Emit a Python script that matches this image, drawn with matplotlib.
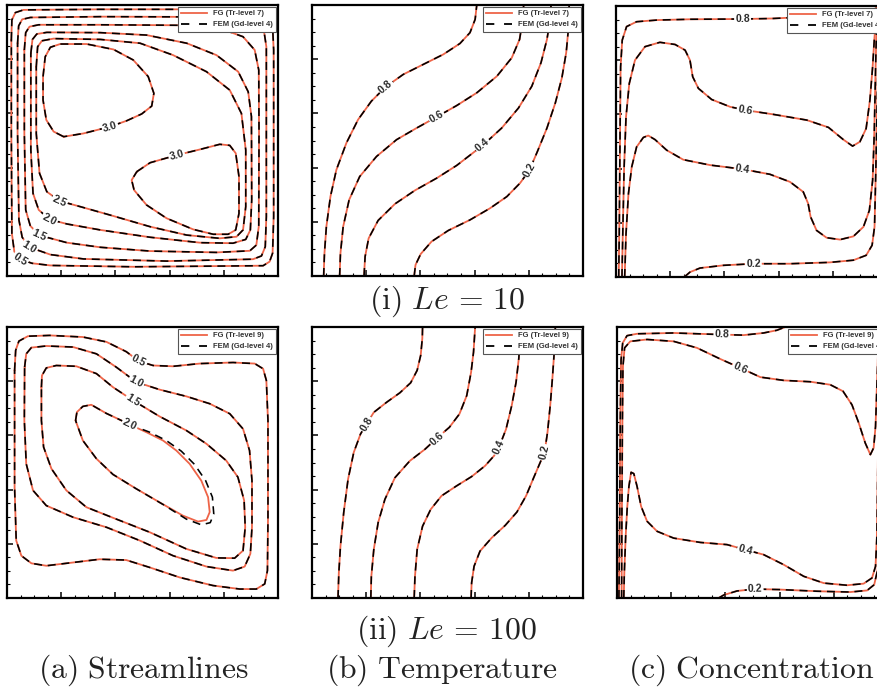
import math
import matplotlib
matplotlib.use("Agg")
import matplotlib.pyplot as plt
from matplotlib.lines import Line2D

plt.rcParams['mathtext.fontset'] = 'cm'

RED = '#ee6448'
LBL_FONT = 'Liberation Sans'

# ---------------- data (percent of cavity width / height) ----------------
# (i) Le = 10, streamlines: closed rings
a1_psi05 = [(1.6, 87.1), (1.8, 94.5), (3.1, 97.2), (6.1, 98.2), (34.4, 98.4), (65.0, 98.4), (89.6, 98.2),
            (95.7, 97.2), (97.9, 94.5), (98.4, 83.4), (98.4, 21.9), (98.0, 8.4), (96.9, 5.3), (94.5, 3.8),
            (46.6, 3.4), (16.0, 3.9), (9.2, 4.7), (4.9, 6.2), (2.7, 9.0), (1.8, 15.7), (1.6, 52.6)]
a1_psi10 = [(3.9, 85.9), (4.3, 92.3), (5.6, 94.7), (8.6, 95.4), (34.4, 95.7), (71.2, 95.6), (85.9, 95.0),
            (92.0, 93.5), (94.8, 90.5), (95.7, 84.6), (95.7, 21.9), (95.3, 10.8), (93.9, 7.4), (90.8, 6.2),
            (58.9, 5.5), (28.2, 6.3), (16.0, 7.9), (8.3, 10.6), (5.6, 14.3), (4.4, 20.7), (3.9, 52.6)]
a1_psi15 = [(6.4, 83.4), (6.9, 89.8), (8.3, 92.0), (11.7, 92.7), (34.4, 92.7), (66.3, 92.5), (78.5, 91.4),
            (87.1, 88.3), (91.4, 83.4), (92.9, 76.0), (93.0, 52.6), (92.9, 18.2), (92.0, 11.4), (89.6, 9.3),
            (77.3, 8.7), (52.8, 9.2), (34.4, 10.6), (22.1, 12.3), (12.0, 15.0), (8.6, 18.5), (6.9, 24.4),
            (6.4, 52.6)]
a1_psi20 = [(8.8, 82.2), (9.4, 87.3), (11.0, 89.3), (14.7, 89.9), (34.4, 89.8), (51.5, 88.9), (66.3, 85.9),
            (77.3, 81.5), (85.3, 75.4), (89.0, 68.0), (90.2, 58.8), (90.3, 28.0), (89.8, 17.0), (88.1, 13.5),
            (83.4, 12.1), (71.2, 12.3), (52.8, 14.3), (34.4, 17.0), (22.1, 19.2), (15.7, 20.9), (11.7, 24.4),
            (9.6, 30.5), (8.8, 46.5)]
a1_psi25 = [(10.8, 77.2), (11.3, 84.6), (12.9, 86.8), (17.2, 87.6), (34.4, 87.3), (49.1, 85.9), (61.3, 81.5),
            (73.6, 75.4), (82.2, 68.6), (86.5, 60.0), (88.1, 46.5), (88.1, 25.6), (87.1, 17.0), (84.7, 14.5),
            (78.5, 13.9), (66.3, 15.1), (52.8, 18.2), (38.0, 22.5), (27.0, 25.6), (19.4, 27.7), (14.7, 31.1),
            (12.0, 37.9), (10.8, 52.6)]
a1_psi30_tl = [(20.9, 51.4), (17.2, 53.3), (14.5, 57.6), (13.3, 64.9), (13.3, 73.6), (14.1, 80.9), (16.0, 84.4),
               (19.6, 85.6), (29.4, 85.6), (39.3, 83.6), (46.6, 79.7), (52.1, 73.6), (54.2, 67.4), (53.4, 62.7),
               (49.7, 59.8), (44.2, 57.3), (38.0, 55.1), (28.2, 52.6)]
a1_psi30_br = [(47.9, 38.5), (52.8, 41.8), (62.6, 44.6), (71.2, 46.7), (78.5, 48.6), (82.2, 48.2), (84.4, 45.3),
               (85.6, 36.7), (85.6, 23.1), (84.4, 17.0), (81.6, 15.4), (76.1, 15.4), (68.7, 17.2), (58.9, 21.3),
               (51.5, 26.2), (46.9, 31.7), (46.0, 35.4)]

# (i) Le = 10, temperature
b1_t08 = [(4.3, 0), (4.6, 8.4), (5.3, 18.2), (6.8, 29.3), (9.0, 39.2), (12.7, 49.1), (17.0, 57.7), (21.9, 64.5),
          (27.2, 69.8), (33.7, 74.4), (41.1, 78.1), (48.5, 81.8), (54.6, 85.8), (58.3, 89.8), (60.2, 94.7),
          (60.8, 100)]
b1_t06 = [(10.2, 0), (10.5, 8.4), (11.5, 18.2), (13.7, 28.1), (17.6, 36.7), (23.8, 44.1), (31.2, 50.3),
          (38.6, 54.6), (46.0, 58.7), (53.4, 62.9), (60.8, 67.6), (68.2, 73.7), (73.7, 80.5), (76.6, 87.3),
          (77.8, 94.7), (78.1, 100)]
b1_t04 = [(19.2, 0), (19.6, 7.2), (20.9, 13.9), (24.4, 20.5), (30.6, 26.6), (38.0, 31.6), (46.0, 36.1),
          (53.4, 40.8), (63.0, 48.2), (70.0, 54.6), (76.2, 62.0), (81.1, 70.0), (84.5, 78.7), (86.7, 87.3),
          (87.9, 94.7), (88.2, 100)]
b1_t02 = [(37.7, 0), (38.2, 4.1), (40.1, 8.1), (44.1, 12.7), (50.3, 16.8), (58.3, 20.7), (65.7, 25.0),
          (71.9, 29.3), (76.8, 34.3), (80.3, 39.2), (83.2, 46.0), (86.7, 54.6), (89.8, 63.9), (92.2, 73.1),
          (93.8, 82.4), (94.6, 91.0), (94.9, 100)]

# (i) Le = 10, concentration
c1_c08 = [(1.0, 0), (1.2, 16.0), (1.5, 53.0), (1.7, 77.6), (2.3, 87.4), (3.9, 92.4), (7.6, 94.2), (15.0, 94.8),
          (27.3, 95.1), (46.7, 95.2), (58.1, 95.4), (66.7, 95.8), (76.5, 96.7), (86.3, 97.5), (93.7, 98.5),
          (99.3, 100)]
c1_c06 = [(2.2, 0), (2.5, 16.0), (3.0, 40.6), (3.7, 59.1), (4.9, 71.4), (7.0, 80.0), (10.7, 85.0), (16.2, 86.6),
          (21.8, 85.8), (25.5, 83.7), (27.3, 80.0), (28.3, 73.9), (30.4, 69.6), (35.3, 65.5), (42.1, 62.8),
          (47.6, 61.6), (58.1, 60.0), (70.4, 57.9), (78.4, 55.2), (83.9, 50.7), (87.3, 48.3), (90.0, 49.9),
          (92.3, 54.8), (93.7, 65.3), (94.7, 77.6), (95.3, 87.4), (95.9, 94.8), (96.2, 100)]
c1_c04 = [(3.2, 0), (3.7, 16.0), (4.6, 30.8), (5.8, 40.6), (7.6, 48.0), (10.1, 51.5), (11.9, 52.2), (14.4, 50.7),
          (18.7, 46.8), (24.8, 43.3), (34.7, 41.3), (46.7, 39.8), (56.8, 37.9), (64.2, 35.1), (69.1, 31.4),
          (70.9, 27.1), (71.8, 22.2), (74.0, 17.2), (77.7, 14.5), (82.7, 13.8), (87.6, 15.0), (91.3, 18.5),
          (93.5, 24.6), (94.7, 35.7), (95.3, 53.0), (95.8, 77.6), (96.2, 94.8), (96.5, 100)]
c1_c02 = [(25.2, 0), (27.3, 1.8), (31.0, 3.3), (39.6, 4.3), (50.7, 4.9), (64.2, 4.9), (79.0, 5.4), (87.6, 6.2),
          (92.3, 8.0), (94.5, 11.7), (95.4, 18.5), (95.9, 40.6), (96.4, 65.3), (96.9, 89.9), (97.2, 100)]

# (ii) Le = 100, streamlines
a2_psi05 = [(2.8, 84.0), (3.2, 91.4), (4.4, 94.8), (7.7, 96.6), (15.7, 96.9), (28.0, 96.3), (36.7, 94.5),
            (44.0, 90.9), (48.7, 87.4), (53.9, 85.8), (61.3, 85.5), (71.1, 86.5), (83.4, 86.9), (91.4, 86.5),
            (94.5, 84.6), (95.7, 80.3), (96.3, 65.5), (96.3, 28.6), (96.1, 10.1), (95.1, 5.2), (92.0, 3.3),
            (85.9, 3.3), (76.0, 4.6), (63.7, 7.6), (52.6, 11.3), (44.0, 14.0), (34.2, 14.3), (21.9, 12.8),
            (14.5, 11.9), (9.0, 12.8), (5.3, 15.6), (3.4, 21.2), (2.8, 40.9), (2.8, 65.5)]
a2_psi10 = [(6.5, 85.2), (7.1, 90.1), (9.0, 92.4), (14.5, 93.0), (24.4, 92.6), (33.0, 90.1), (40.3, 85.2),
            (47.7, 79.7), (56.3, 76.9), (66.2, 74.4), (74.8, 71.7), (82.2, 68.0), (87.1, 62.4), (89.5, 54.4),
            (90.4, 43.3), (90.4, 26.1), (89.8, 16.3), (87.7, 11.6), (83.4, 10.1), (73.6, 11.6), (61.3, 15.6),
            (49.0, 21.2), (36.7, 26.1), (24.4, 29.8), (14.5, 34.1), (9.6, 39.7), (7.1, 49.5), (6.4, 65.5)]
a2_psi15 = [(12.7, 77.8), (12.9, 82.1), (14.5, 84.9), (18.2, 85.8), (25.6, 85.5), (33.0, 82.8), (39.1, 77.8),
            (46.5, 72.9), (56.3, 67.0), (66.2, 61.8), (73.6, 56.9), (80.9, 50.7), (85.2, 44.6), (87.5, 36.0),
            (87.9, 26.1), (87.1, 17.5), (84.0, 14.7), (77.2, 14.8), (66.2, 18.1), (52.6, 24.3), (39.1, 29.6),
            (29.3, 33.5), (21.9, 39.7), (16.4, 47.7), (13.5, 55.7), (12.7, 65.5)]
a2_psi20_fg = [(25.3, 65.5), (25.8, 68.6), (28.0, 70.7), (31.1, 71.3), (36.7, 68.1), (41.6, 65.8), (45.3, 64.0),
               (51.4, 61.2), (57.6, 58.1), (62.5, 54.4), (67.4, 49.5), (71.7, 43.3), (74.2, 37.2), (74.8, 31.7),
               (73.6, 28.8), (70.5, 28.2), (64.9, 30.4), (56.3, 35.3), (47.7, 40.3), (39.1, 45.6), (33.0, 51.4),
               (28.0, 58.1)]
a2_psi20_fem = [(25.3, 65.5), (25.8, 68.6), (28.0, 70.7), (31.1, 71.3), (36.7, 68.1), (41.6, 65.8), (45.3, 64.0),
                (52.6, 61.2), (58.8, 58.1), (64.3, 54.2), (69.2, 49.3), (73.3, 43.3), (75.8, 37.2), (76.3, 31.0),
                (75.0, 27.8), (71.7, 27.0), (66.2, 29.1), (57.6, 34.5), (47.7, 40.3), (39.1, 45.6), (33.0, 51.4),
                (28.0, 58.1)]

# (ii) Le = 100, temperature
b2_t08 = [(9.6, 0), (9.9, 9.3), (10.5, 19.1), (11.7, 31.5), (13.3, 43.8), (15.4, 53.7), (17.9, 60.5),
          (20.1, 64.2), (22.8, 68.5), (27.5, 72.2), (32.4, 75.7), (36.4, 79.4), (38.8, 84.0), (40.1, 89.5),
          (40.7, 95.7), (40.8, 100)]
b2_t06 = [(21.7, 0), (21.9, 8.0), (22.8, 17.9), (24.4, 27.8), (26.9, 36.4), (30.6, 44.4), (36.1, 50.6),
          (41.7, 54.9), (46.0, 58.9), (50.7, 63.0), (54.4, 67.9), (57.1, 74.7), (58.7, 83.3), (59.6, 90.7),
          (60.2, 100)]
b2_t04 = [(37.7, 0), (38.0, 8.0), (38.8, 17.9), (40.8, 26.5), (43.8, 32.7), (47.8, 37.7), (53.4, 41.4),
          (58.9, 44.8), (63.9, 48.8), (67.2, 52.5), (69.0, 55.6), (71.6, 62.3), (73.7, 71.0), (75.3, 79.6),
          (76.3, 88.3), (76.8, 95.7), (77.1, 100)]
b2_t02 = [(58.7, 0), (58.9, 5.6), (59.8, 11.7), (62.0, 17.3), (66.3, 22.2), (71.3, 26.8), (75.6, 31.7),
          (79.0, 37.7), (81.8, 44.4), (84.2, 50.0), (85.8, 53.7), (86.9, 61.1), (87.9, 71.0), (88.7, 80.9),
          (89.3, 89.5), (89.8, 100)]

# (ii) Le = 100, concentration
c2_c08 = [(0.7, 0), (1.0, 28.9), (1.2, 65.8), (1.5, 87.9), (2.1, 94.1), (3.7, 96.8), (7.4, 97.5), (20.9, 97.8),
          (38.7, 97.2), (46.7, 97.0), (54.1, 97.8), (59.0, 98.8), (62.1, 100)]
c2_c06 = [(1.7, 0), (1.8, 28.9), (2.0, 65.8), (2.2, 85.5), (2.8, 92.3), (4.9, 94.7), (11.1, 95.4), (20.9, 94.7),
          (29.5, 92.3), (38.1, 88.2), (45.5, 84.9), (52.9, 81.5), (61.5, 80.3), (71.3, 79.8), (78.7, 78.7),
          (83.4, 76.3), (86.7, 71.3), (89.2, 64.6), (91.6, 57.2), (93.5, 52.9), (94.7, 55.4), (95.4, 63.3),
          (95.9, 78.1), (96.4, 92.9), (96.7, 100)]
c2_c04 = [(2.5, 0), (2.7, 9.2), (3.2, 22.8), (3.8, 33.8), (4.4, 41.2), (5.2, 46.4), (6.2, 45.9), (7.4, 41.2),
          (8.9, 33.8), (11.1, 28.3), (14.8, 24.6), (20.9, 22.1), (30.8, 20.5), (40.6, 19.7), (47.4, 17.8),
          (54.1, 16.0), (61.5, 12.3), (68.9, 8.0), (76.3, 5.5), (84.9, 4.7), (91.0, 5.3), (94.1, 7.4),
          (95.4, 11.7), (95.9, 22.8), (96.3, 53.5), (96.7, 84.3), (96.9, 100)]
c2_c02 = [(37.5, 0), (39.4, 1.1), (44.3, 2.6), (51.0, 3.3), (60.3, 3.1), (73.8, 2.5), (86.1, 2.2), (92.3, 2.8),
          (94.9, 4.9), (96.2, 10.5), (96.7, 41.2), (97.0, 78.1), (97.2, 100)]

legend_fg = ['FG (Tr-level 7)', 'FG (Tr-level 9)']
legend_fem = 'FEM (Gd-level 4)'
row_titles = [r'$\mathrm{(i)}\ Le\,=\,10$', r'$\mathrm{(ii)}\ Le\,=\,100$']
col_titles = [r'$\mathrm{(a)\ Streamlines}$', r'$\mathrm{(b)\ Temperature}$', r'$\mathrm{(c)\ Concentration}$']

# panel contents: (fg points, fem points, closed, label text, label index)
panels = {
    'a1': [(a1_psi05, a1_psi05, True, '0.5', 17), (a1_psi10, a1_psi10, True, '1.0', 17),
           (a1_psi15, a1_psi15, True, '1.5', 18), (a1_psi20, a1_psi20, True, '2.0', 19),
           (a1_psi25, a1_psi25, True, '2.5', 19), (a1_psi30_tl, a1_psi30_tl, True, '3.0', 16),
           (a1_psi30_br, a1_psi30_br, True, '3.0', 2)],
    'b1': [(b1_t08, b1_t08, False, '0.8', 8), (b1_t06, b1_t06, False, '0.6', 8),
           (b1_t04, b1_t04, False, '0.4', 8), (b1_t02, b1_t02, False, '0.2', 9)],
    'c1': [(c1_c08, c1_c08, False, '0.8', 9), (c1_c06, c1_c06, False, '0.6', 15),
           (c1_c04, c1_c04, False, '0.4', 11), (c1_c02, c1_c02, False, '0.2', 4)],
    'a2': [(a2_psi05, a2_psi05, True, '0.5', 8), (a2_psi10, a2_psi10, True, '1.0', 7),
           (a2_psi15, a2_psi15, True, '1.5', 7), (a2_psi20_fg, a2_psi20_fem, True, '2.0', 6)],
    'b2': [(b2_t08, b2_t08, False, '0.8', 7), (b2_t06, b2_t06, False, '0.6', 8),
           (b2_t04, b2_t04, False, '0.4', 10), (b2_t02, b2_t02, False, '0.2', 10)],
    'c2': [(c2_c08, c2_c08, False, '0.8', 8), (c2_c06, c2_c06, False, '0.6', 10),
           (c2_c04, c2_c04, False, '0.4', 14), (c2_c02, c2_c02, False, '0.2', 3)],
}

# ---------------- layout ----------------
W, H = 877, 691
fig = plt.figure(figsize=(W / 100, H / 100), dpi=100)
fig.patch.set_facecolor('white')

px = 271
boxes = {  # left, top (pixels)
    'a1': (7, 5), 'b1': (312, 5), 'c1': (616, 6),
    'a2': (7, 327), 'b2': (312, 327), 'c2': (617, 327),
}


def xy(pts, closed):
    xs = [p[0] for p in pts]
    ys = [p[1] for p in pts]
    if closed:
        xs.append(xs[0])
        ys.append(ys[0])
    return xs, ys


for key, (lx, ty) in boxes.items():
    ax = fig.add_axes([lx / W, 1 - (ty + px) / H, px / W, px / H])
    ax.set_xlim(0, 100)
    ax.set_ylim(0, 100)
    for s in ax.spines.values():
        s.set_linewidth(1.6)
        s.set_color('black')
    ax.set_xticks([0, 20, 40, 60, 80, 100])
    ax.set_yticks([0, 20, 40, 60, 80, 100])
    ax.set_xticks(list(range(0, 101, 5)), minor=True)
    ax.set_yticks(list(range(0, 101, 5)), minor=True)
    ax.tick_params(which='major', direction='in', length=4.5, width=1.1, labelbottom=False, labelleft=False)
    ax.tick_params(which='minor', direction='in', length=2.2, width=0.8)

    for fg, fem, closed, txt, li in panels[key]:
        x1, y1 = xy(fg, closed)
        x2, y2 = xy(fem, closed)
        ax.plot(x1, y1, color=RED, lw=1.3, solid_joinstyle='round', solid_capstyle='round', zorder=2)
        ax.plot(x2, y2, color='black', lw=1.15, dashes=(5.0, 3.6), zorder=3)
        p0 = ax.transData.transform(fg[li - 1])
        p1 = ax.transData.transform(fg[(li + 1) % len(fg)])
        ang = math.degrees(math.atan2(p1[1] - p0[1], p1[0] - p0[0]))
        if ang > 90:
            ang -= 180
        if ang < -90:
            ang += 180
        ax.text(fg[li][0], fg[li][1], txt, rotation=ang, rotation_mode='anchor', ha='center', va='center',
                fontsize=7.6, family=LBL_FONT, fontweight='bold', color='#2a2a2a', zorder=4,
                bbox=dict(boxstyle='square,pad=0.1', fc='white', ec='none'))

    row = 0 if key.endswith('1') else 1
    handles = [Line2D([], [], color=RED, lw=1.3),
               Line2D([], [], color='black', lw=1.3, dashes=(4.6, 5.4))]
    leg = ax.legend(handles, [legend_fg[row], legend_fem], loc='upper right',
                    prop={'family': LBL_FONT, 'weight': 'bold', 'size': 5.5},
                    frameon=True, fancybox=False, edgecolor='#555555', framealpha=1,
                    borderpad=0.4, labelspacing=0.5, handlelength=3.45, handletextpad=0.8,
                    borderaxespad=0.25)
    leg.get_frame().set_linewidth(0.8)
    leg.set_zorder(6)
    for t in leg.get_texts():
        t.set_color('#333333')

# row and column captions
fig.text(447 / W, 1 - 301 / H, row_titles[0], ha='center', va='center', fontsize=22.8, color='#222222')
fig.text(446 / W, 1 - 631 / H, row_titles[1], ha='center', va='center', fontsize=22.8, color='#222222')
for cx, t in zip([143, 442, 751], col_titles):
    fig.text(cx / W, 1 - 670 / H, t, ha='center', va='center', fontsize=22.8, color='#222222')

fig.savefig('out.png', dpi=100, facecolor='white')
